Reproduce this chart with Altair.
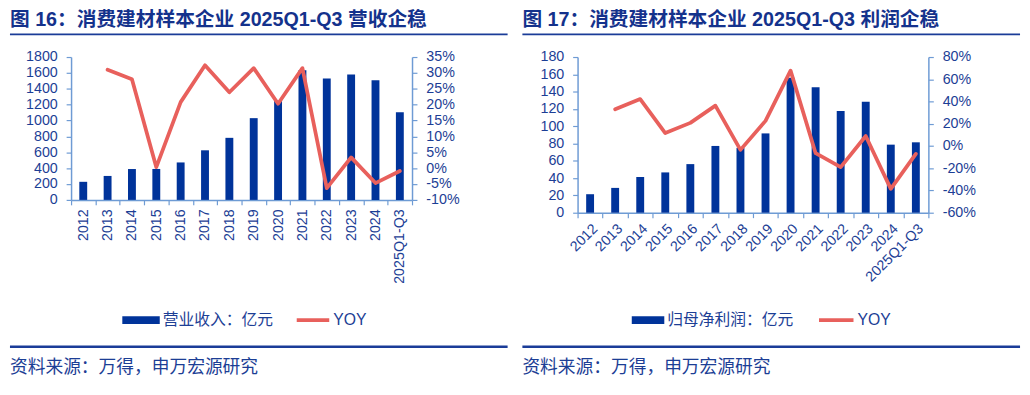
import altair as alt
import pandas as pd

# ---------------- data ----------------
years = ["2012", "2013", "2014", "2015", "2016", "2017", "2018", "2019",
         "2020", "2021", "2022", "2023", "2024", "2025Q1-Q3"]

revenue = [228, 302, 389, 390, 472, 625, 782, 1030, 1250, 1634, 1531, 1581, 1506, 1105]
revenue_yoy = [None, 31.0, 28.0, 0.3, 20.8, 32.4, 23.9, 31.5, 20.3, 31.5, -6.3, 3.4, -4.7, -0.9]

profit = [21.4, 28.7, 41.3, 46.6, 56.2, 77.2, 75.0, 91.7, 155.9, 145.2, 117.7, 128.4, 78.7, 81.4]
profit_yoy = [None, 33.0, 42.2, 11.6, 20.8, 36.3, -3.5, 22.6, 67.8, -6.5, -19.0, 9.0, -38.6, -7.1]

left_title = "图 16：消费建材样本企业 2025Q1-Q3 营收企稳"
right_title = "图 17：消费建材样本企业 2025Q1-Q3 利润企稳"
left_bar_name = "营业收入：亿元"
right_bar_name = "归母净利润：亿元"
line_name = "YOY"
source_text = "资料来源：万得，申万宏源研究"

left_y_ticks = list(range(0, 1801, 200))
left_yoy_ticks = list(range(-10, 36, 5))
right_y_ticks = list(range(0, 181, 20))
right_yoy_ticks = list(range(-60, 81, 20))

# ---------------- styles ----------------
BAR = "#00339A"
LINE = "#E8605C"
TXT = "#1C3E95"
TITLE = "#14328C"
AXIS = "#6E9BD4"
RULE = "#1A3C98"
LAT = "Liberation Sans"
CJK = "Liberation Sans, Noto Sans CJK SC"

one = pd.DataFrame({"k": [0]})


def deco_text(x, y, s, size, weight="normal", color=TXT, font=CJK):
    return alt.Chart(one).mark_text(
        align="left", baseline="middle", fontSize=size, fontWeight=weight,
        color=color, font=font
    ).encode(x=alt.value(x), y=alt.value(y), text=alt.value(s))


def deco_rule(x1, x2, y, color, width):
    return alt.Chart(one).mark_rule(color=color, strokeWidth=width).encode(
        x=alt.value(x1), x2=alt.value(x2), y=alt.value(y))


def deco_rect(x1, x2, y1, y2, color):
    return alt.Chart(one).mark_rect(color=color).encode(
        x=alt.value(x1), x2=alt.value(x2), y=alt.value(y1), y2=alt.value(y2))


def panel(vals, yoy, bar_name, title, yticks, yoyticks, w, h, label_angle,
          lx, leg):
    df = pd.DataFrame({"year": years, "val": vals, "yoy": yoy})
    xenc = alt.X("year:N", sort=years, title=None,
                 scale=alt.Scale(paddingInner=0, paddingOuter=0),
                 axis=alt.Axis(labelAngle=label_angle, tickBand="extent",
                               labelPadding=4))
    bars = alt.Chart(df).mark_bar(color=BAR, size=8).encode(
        x=xenc,
        y=alt.Y("val:Q", title=None,
                scale=alt.Scale(domain=[yticks[0], yticks[-1]], nice=False),
                axis=alt.Axis(orient="left", values=yticks, labelPadding=9,
                              format="d")),
    )
    line = alt.Chart(df).transform_filter("datum.yoy != null").mark_line(
        color=LINE, strokeWidth=3.8, strokeCap="round", strokeJoin="round"
    ).encode(
        x=alt.X("year:N", sort=years),
        y=alt.Y("yoy:Q", title=None,
                scale=alt.Scale(domain=[yoyticks[0], yoyticks[-1]], nice=False),
                axis=alt.Axis(orient="right", values=yoyticks, labelPadding=9,
                              labelExpr="datum.value + '%'")),
    )
    main = alt.layer(bars, line).resolve_scale(y="independent")

    leg_y = 267
    decos = [
        deco_text(lx, -37, title, 20, "bold", TITLE),
        deco_rule(lx, lx + 505, -23, RULE, 2),
        deco_rect(leg[0], leg[1], leg_y - 4, leg_y + 4, BAR),
        deco_text(leg[1] + 3, leg_y, bar_name, 16),
        deco_rule(leg[2], leg[3], leg_y, LINE, 4),
        deco_text(leg[3] + 4, leg_y, line_name, 16, font=LAT),
        deco_rule(lx, lx + 505, 294, RULE, 2.5),
        deco_text(lx, 316, source_text, 18),
    ]
    return alt.layer(main, *decos).properties(width=w, height=h)


left = panel(revenue, revenue_yoy, left_bar_name, left_title,
             left_y_ticks, left_yoy_ticks, 346, 145, -90, -62,
             (52, 90, 229, 262))
right = panel(profit, profit_yoy, right_bar_name, right_title,
              right_y_ticks, right_yoy_ticks, 356, 158, -45, -56,
              (55, 88, 245, 280))

chart = alt.hconcat(left, right, spacing=11).properties(
    padding=0
).configure_view(strokeWidth=0).configure_axis(
    domainColor=AXIS, tickColor=AXIS, domainWidth=1.5, tickWidth=1.2,
    tickSize=5, labelColor=TXT, labelFont=LAT, labelFontSize=14.5,
    grid=False
)

chart.save("out.html", embed_options={"renderer": "svg", "actions": False})
